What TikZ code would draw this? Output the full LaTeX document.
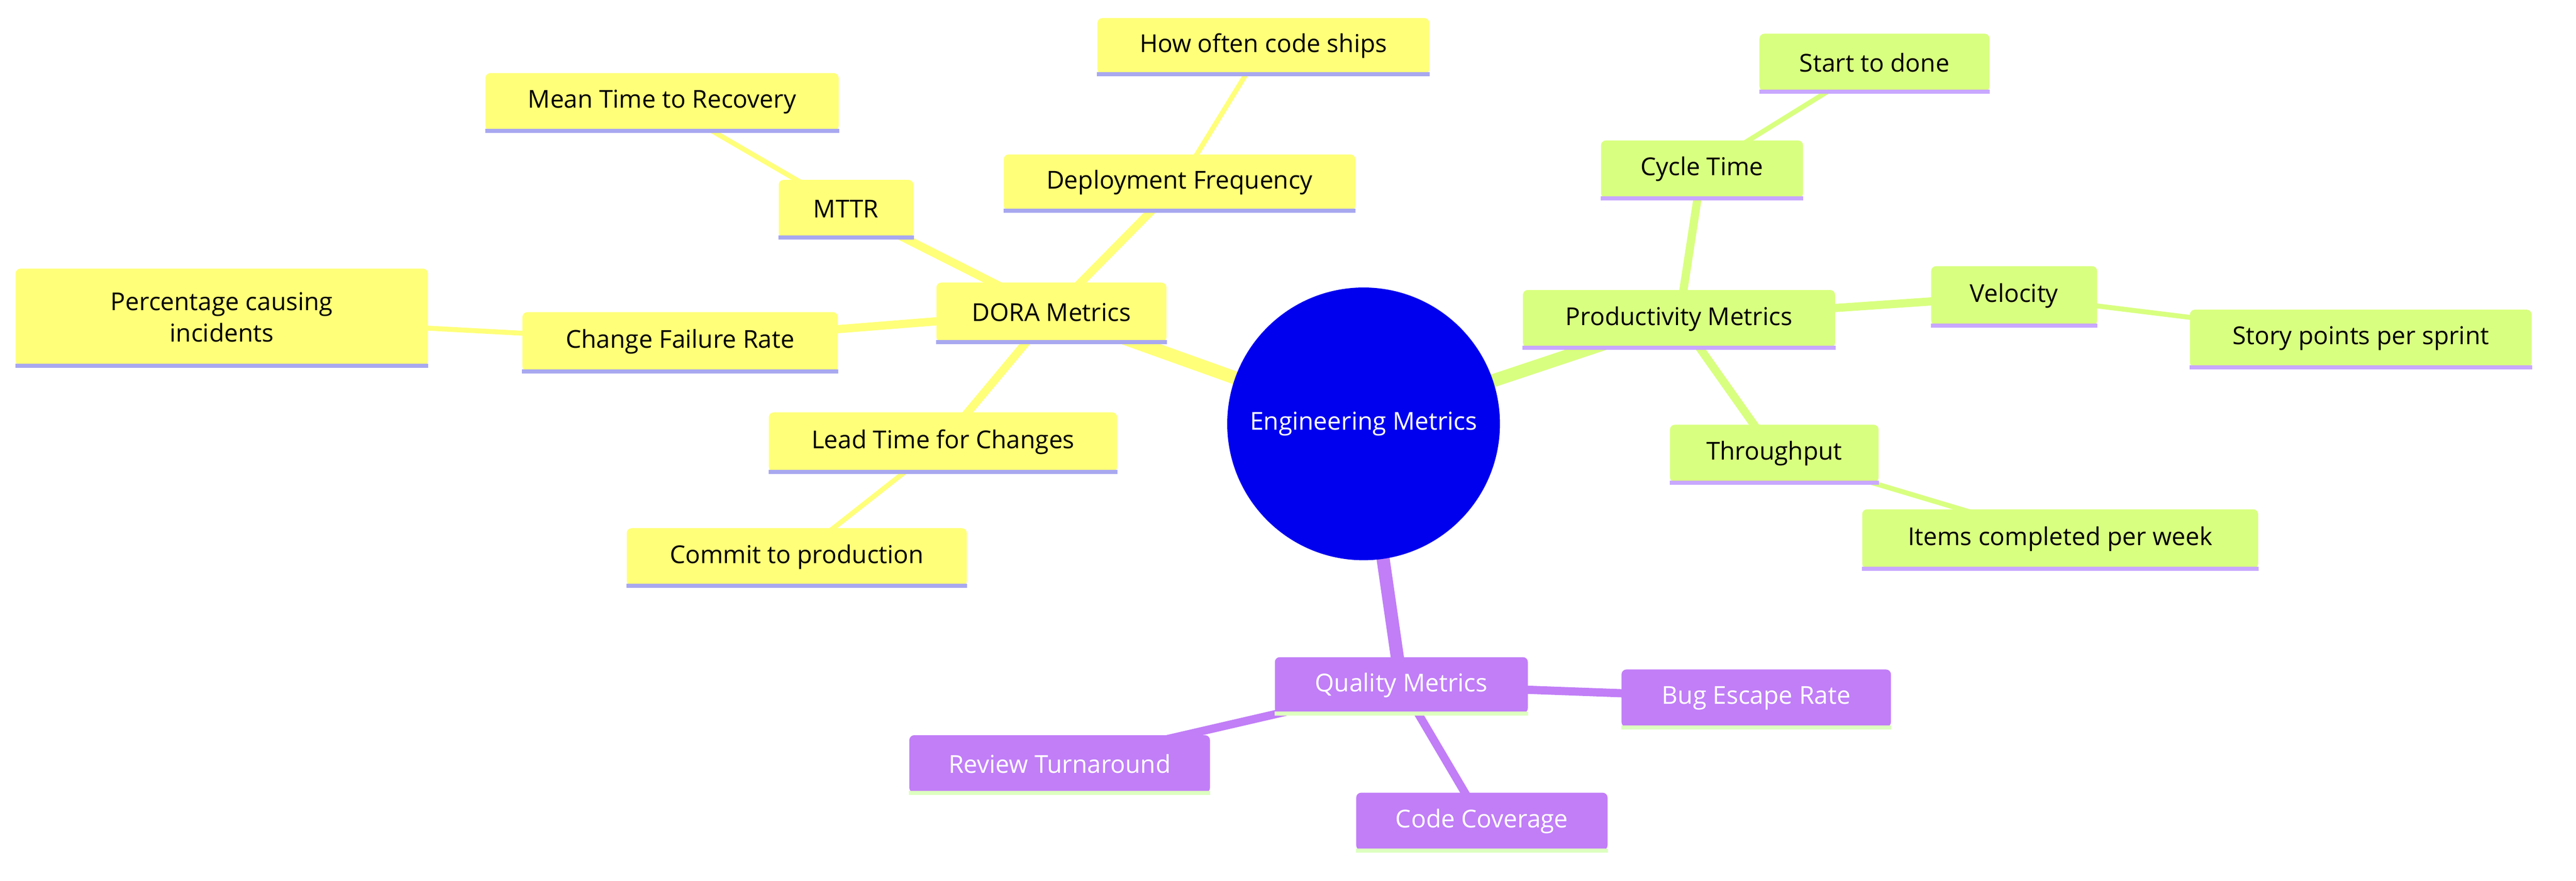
\documentclass[tikz,border=0pt]{standalone}
\usepackage{fontspec}
\setmainfont{Open Sans}
\usetikzlibrary{backgrounds}
\definecolor{yel}{HTML}{FFFF7A}
\definecolor{yelb}{HTML}{A8A8F0}
\definecolor{grn}{HTML}{D9FF80}
\definecolor{grnb}{HTML}{C8A8FF}
\definecolor{pur}{HTML}{C17EF7}
\definecolor{purb}{HTML}{DDFFC0}
\definecolor{rootc}{HTML}{0000EE}
\begin{document}
\begin{tikzpicture}[x=1pt,y=-1pt,
  every node/.style={font=\fontsize{15}{19}\selectfont},
  box/.style n args={3}{draw=none,fill=#1,rounded corners=3pt,minimum width=#2pt,minimum height=#3pt,inner sep=0pt,align=center},
  Y/.style 2 args={box={yel}{#1}{#2}},
  G/.style 2 args={box={grn}{#1}{#2}},
  P/.style 2 args={box={pur}{#1}{#2},text=white},
  ey/.style={draw=yel,line width=#1},
  eg/.style={draw=grn,line width=#1},
  ep/.style={draw=pur,line width=#1},
]
\useasboundingbox (0,0) rectangle (1568,536);
\node[circle,fill=rootc,minimum size=166pt,text=white,inner sep=0pt] (root) at (830,258) {Engineering Metrics};
% DORA
\node[Y={140}{36}] (dora) at (640,190) {DORA Metrics};
\node[Y={214}{34}] (dep) at (718,111) {Deployment Frequency};
\node[Y={202}{34}] (ships) at (769,28) {How often code ships};
\node[Y={82}{35}] (mttr) at (515,127) {MTTR};
\node[Y={215}{35}] (mean) at (403,62) {Mean Time to Recovery};
\node[Y={192}{36}] (cfr) at (414,208) {Change Failure Rate};
\node[Y={251}{59}] (pct) at (135,193) {Percentage causing\\incidents};
\node[Y={212}{36}] (lead) at (574,269) {Lead Time for Changes};
\node[Y={207}{35}] (commit) at (485,339) {Commit to production};
% Productivity
\node[G={190}{35}] (prod) at (1022,194) {Productivity Metrics};
\node[G={123}{35}] (cycle) at (1036,103) {Cycle Time};
\node[G={140}{35}] (start) at (1141,38) {Start to done};
\node[G={101}{36}] (vel) at (1226,180) {Velocity};
\node[G={208}{35}] (story) at (1437,206) {Story points per sprint};
\node[G={127}{35}] (thr) at (1080,276) {Throughput};
\node[G={241}{36}] (items) at (1254,328) {Items completed per week};
% Quality
\node[P={154}{34}] (qual) at (853,417) {Quality Metrics};
\node[P={164}{35}] (bug) at (1069,425) {Bug Escape Rate};
\node[P={183}{35}] (rev) at (645,465) {Review Turnaround};
\node[P={153}{35}] (cov) at (902,500) {Code Coverage};
\begin{pgfonlayer}{background}
\draw[ey=8pt] (root.center)--(dora.center);
\draw[eg=8pt] (root.center)--(prod.center);
\draw[ep=8pt] (root.center)--(qual.center);
\draw[ey=5pt] (dora.center)--(dep.center);
\draw[ey=5pt] (dora.center)--(mttr.center);
\draw[ey=5pt] (dora.center)--(cfr.center);
\draw[ey=5pt] (dora.center)--(lead.center);
\draw[ey=3pt] (dep.center)--(ships.center);
\draw[ey=3pt] (mttr.center)--(mean.center);
\draw[ey=3pt] (cfr.center)--(pct.center);
\draw[ey=3pt] (lead.center)--(commit.center);
\draw[eg=5pt] (prod.center)--(cycle.center);
\draw[eg=5pt] (prod.center)--(vel.center);
\draw[eg=5pt] (prod.center)--(thr.center);
\draw[eg=3pt] (cycle.center)--(start.center);
\draw[eg=3pt] (vel.center)--(story.center);
\draw[eg=3pt] (thr.center)--(items.center);
\draw[ep=5pt] (qual.center)--(bug.center);
\draw[ep=5pt] (qual.center)--(rev.center);
\draw[ep=5pt] (qual.center)--(cov.center);
\end{pgfonlayer}
\foreach \n in {dora,dep,ships,mttr,mean,cfr,pct,lead,commit}
  \draw[yelb,line width=2.5pt] (\n.south west)--(\n.south east);
\foreach \n in {prod,cycle,start,vel,story,thr,items}
  \draw[grnb,line width=2.5pt] (\n.south west)--(\n.south east);
\foreach \n in {qual,bug,rev,cov}
  \draw[purb,line width=2.5pt] (\n.south west)--(\n.south east);
\end{tikzpicture}
\end{document}
